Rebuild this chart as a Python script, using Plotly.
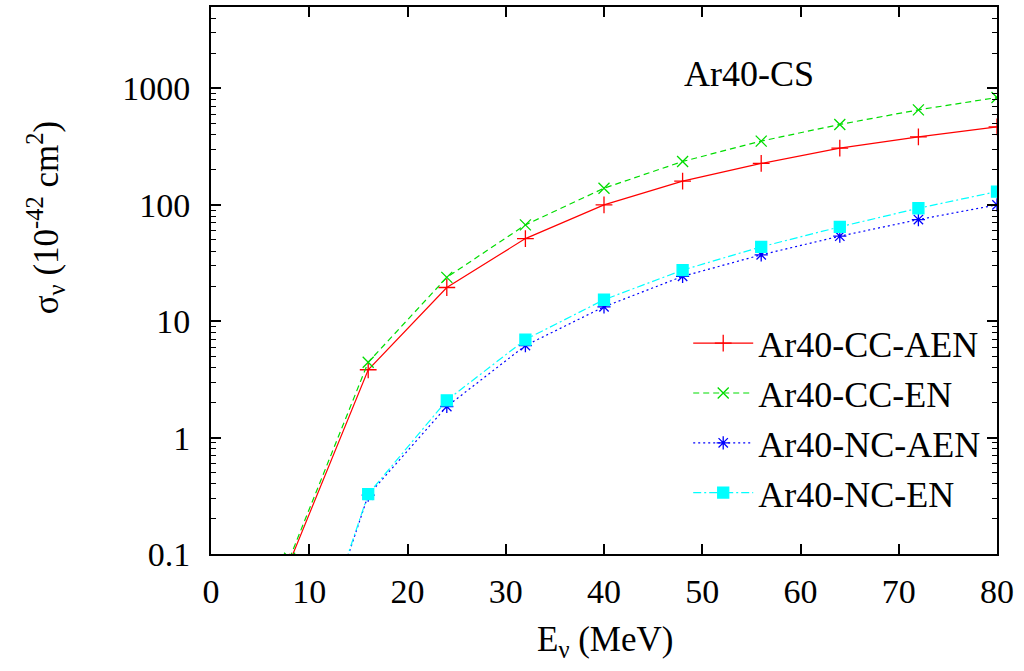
import plotly.graph_objects as go

energy = [8, 16, 24, 32, 40, 48, 56, 64, 72, 80]
cc_aen = [0.085, 3.83, 19.5, 51.3, 100, 160, 227, 307, 384, 468]
cc_en = [0.092, 4.44, 23.8, 67.3, 139, 236, 353, 491, 655, 836]
nc_aen = [0.003, 0.32, 1.85, 6.18, 13.3, 24.3, 37.2, 53.8, 74.7, 100]
nc_en = [0.0032, 0.327, 2.09, 6.96, 15.3, 27.5, 43.6, 64.7, 93.5, 130]

names = ["Ar40-CC-AEN", "Ar40-CC-EN", "Ar40-NC-AEN", "Ar40-NC-EN"]
series = [cc_aen, cc_en, nc_aen, nc_en]
colors = ["#ff0000", "#00dd00", "#0000ff", "#00ffff"]
dashes = ["solid", "6px,4px", "2px,3px", "8px,3px,2px,3px"]
symbols = ["cross-thin-open", "x-thin-open", "asterisk-open", "square"]
msizes = [12, 11, 11, 11]

x_ticks = [0, 10, 20, 30, 40, 50, 60, 70, 80]
y_ticks = [0.1, 1, 10, 100, 1000]
y_ticklabels = ["0.1", "1", "10", "100", "1000"]
y_minor = [m * 10.0 ** e for e in range(-1, 4) for m in range(2, 10) if m * 10.0 ** e <= 5000]

FONT = "Liberation Serif"

fig = go.Figure()
for name, ys, c, d, s, ms in zip(names, series, colors, dashes, symbols, msizes):
    fig.add_trace(go.Scatter(
        x=energy, y=ys, name=name, mode="lines+markers",
        line=dict(color=c, width=1.2, dash=d),
        marker=dict(symbol=s, size=ms, color=c, line=dict(color=c, width=1.3)),
    ))

axis_common = dict(
    showline=True, linecolor="black", linewidth=2, mirror="ticks",
    ticks="inside", tickcolor="black", tickwidth=1.5, ticklen=10,
    showgrid=False, zeroline=False,
    tickfont=dict(family=FONT, size=34, color="black"),
)

fig.update_xaxes(
    range=[0, 80], tickmode="array", tickvals=x_ticks, ticklabelstandoff=6,
    **axis_common,
)
fig.update_yaxes(
    type="log", range=[-1, 3.7],
    tickmode="array", tickvals=y_ticks, ticktext=y_ticklabels, ticklabelstandoff=12,
    minor=dict(tickmode="array", tickvals=y_minor, ticks="inside", ticklen=5,
               tickcolor="black", tickwidth=1.2, showgrid=False),
    **axis_common,
)

fig.add_annotation(
    text="E<sub>ν</sub> (MeV)", xref="paper", yref="paper", x=0.501, y=-0.160,
    xanchor="center", yanchor="middle", showarrow=False,
    font=dict(family=FONT, size=35, color="black"),
)
fig.add_annotation(
    text="σ<sub>ν</sub> (10<sup>-42</sup> cm<sup>2</sup>)", xref="paper", yref="paper",
    x=-0.211, y=0.614, xanchor="center", yanchor="middle", textangle=-90, showarrow=False,
    font=dict(family=FONT, size=35, color="black"),
)
fig.add_annotation(
    text="Ar40-CS", xref="paper", yref="paper", x=0.77, y=0.918,
    showarrow=False, font=dict(family=FONT, size=36, color="black"),
)

fig.update_layout(
    width=1024, height=671,
    margin=dict(l=211, r=27, t=5, b=117),
    plot_bgcolor="white", paper_bgcolor="white",
    font=dict(family=FONT, color="black"),
    legend=dict(
        x=0.985, y=0.44, xanchor="right", yanchor="top",
        font=dict(family=FONT, size=36, color="black"),
        bgcolor="rgba(0,0,0,0)", itemwidth=60, tracegroupgap=0,
    ),
)

fig.write_html(
    "out.html",
    config={"displayModeBar": False},
    post_script="document.body.style.margin='0';document.body.style.padding='0';document.body.style.overflow='hidden';",
)
